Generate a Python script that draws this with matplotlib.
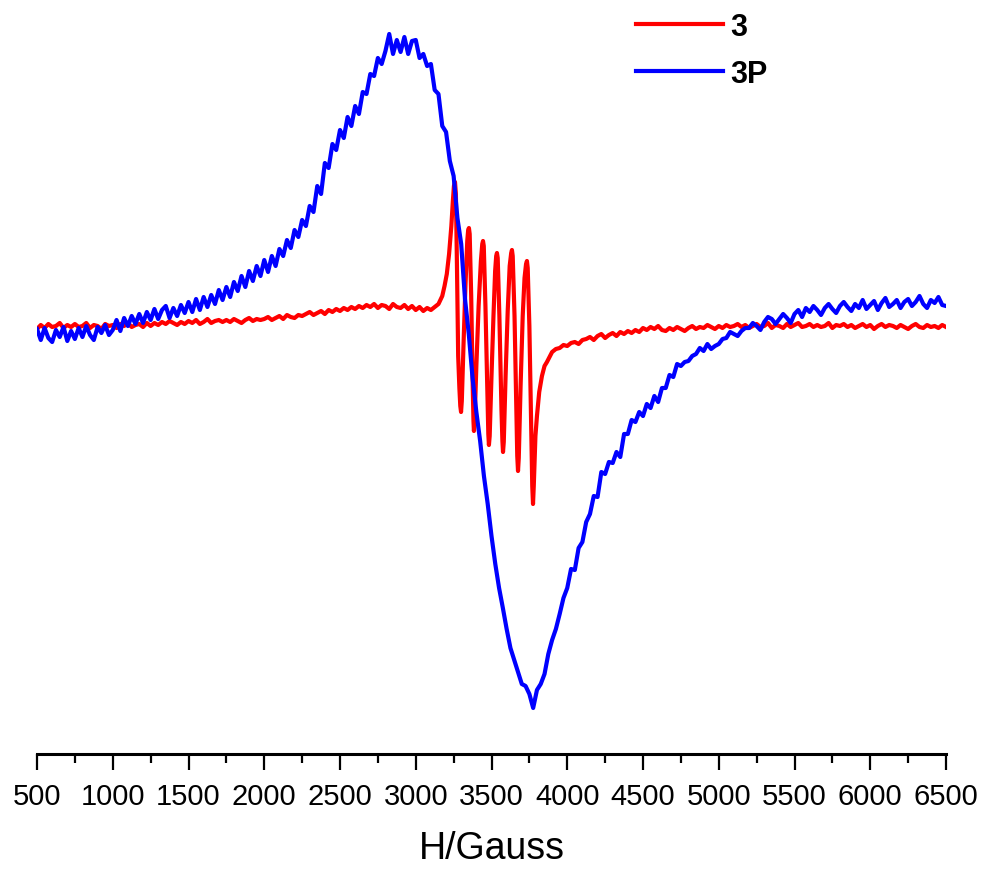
import numpy as np
import matplotlib
matplotlib.use("Agg")
import matplotlib.pyplot as plt

plt.rcParams['font.family'] = ['Liberation Sans', 'DejaVu Sans']

# ---------------- data (field in Gauss, intensity in arbitrary units) ----------------
field_grid = np.arange(500, 6525, 25)  # sweep sampling grid for 3P

blue_3P = [
    -3, -14, -2, -12, -16, -4, -11, -1, -15, -5,
    -13, -2, -11, 0, -9, -14, -1, -7, 1, -9,
    -4, 6, -5, 8, 0, 10, 2, 12, 3, 14,
    6, 17, 7, 16, 20, 8, 18, 10, 21, 13,
    24, 14, 27, 16, 29, 19, 31, 22, 36, 26,
    39, 29, 44, 35, 50, 39, 55, 45, 60, 50,
    66, 54, 70, 60, 77, 70, 86, 78, 96, 89,
    106, 100, 120, 114, 140, 132, 163, 158, 182, 176,
    196, 188, 209, 200, 220, 212, 234, 232, 252, 250,
    268, 262, 275, 292, 272, 286, 274, 289, 272, 285,
    286, 268, 272, 260, 262, 236, 232, 200, 194, 165,
    150, 108, 82, 27, -8, -52, -86, -115, -150, -178,
    -210, -238, -262, -282, -303, -322, -334, -346, -358, -360,
    -368, -382, -364, -358, -348, -328, -314, -303, -288, -272,
    -262, -243, -244, -222, -216, -196, -188, -170, -171, -146,
    -148, -136, -137, -126, -131, -108, -108, -94, -96, -86,
    -90, -78, -82, -70, -76, -62, -62, -49, -51, -38,
    -40, -36, -35, -30, -28, -22, -25, -18, -23, -20,
    -18, -13, -12, -6, -8, -10, -5, -2, -2, 3,
    0, -4, 4, 9, 7, 2, 7, 12, 8, 3,
    12, 16, 9, 18, 14, 20, 16, 11, 18, 22,
    17, 13, 20, 24, 19, 15, 22, 18, 26, 17,
    21, 25, 16, 23, 28, 19, 22, 26, 18, 24,
    27, 20, 24, 30, 22, 18, 26, 23, 29, 21,
    20,
]

red_field_low = np.arange(500, 3200, 25)
red_low = [
    -3, 1, -2, 2, -1, 0, 3, -2, 1, -1,
    2, -1, 0, 3, -2, 1, 0, -3, 2, 0,
    1, -2, 2, 0, 3, -1, 1, 2, -1, 3,
    0, 3, 1, 4, 2, 5, 3, 1, 4, 2,
    5, 3, 6, 2, 4, 7, 3, 5, 6, 4,
    6, 4, 7, 5, 3, 6, 8, 5, 7, 6,
    7, 9, 6, 8, 10, 7, 11, 9, 8, 11,
    10, 12, 14, 11, 13, 15, 12, 16, 14, 17,
    15, 18, 16, 19, 17, 20, 18, 21, 19, 22,
    18, 21, 20, 17, 22, 19, 18, 21, 17, 20,
    16, 19, 15, 18, 16, 19, 22, 30,
]

red_field_mid = [
    3190, 3205, 3220, 3235, 3245, 3252, 3259, 3265, 3272, 3280, 3288, 3294, 3299, 3304,
    3315, 3328, 3340, 3346, 3351, 3356, 3366, 3376, 3381, 3384, 3388,
    3400, 3415, 3430, 3439, 3444, 3449, 3460, 3473, 3479, 3483, 3488,
    3500, 3513, 3524, 3531, 3536, 3541, 3552, 3566, 3572, 3576, 3581,
    3593, 3607, 3620, 3630, 3635, 3640, 3652, 3664, 3670, 3675, 3680,
    3692, 3706, 3718, 3728, 3734, 3739, 3750, 3762, 3769, 3774, 3779,
    3790, 3800, 3815, 3833, 3850, 3866,
]
red_mid = [
    40, 52, 72, 100, 125, 140, 144, 132, 60, -30, -62, -80, -86, -75,
    -20, 40, 85, 96, 98, 92, 30, -60, -95, -105, -98,
    -40, 20, 65, 82, 85, 80, 20, -70, -108, -119, -110,
    -50, 10, 55, 70, 73, 68, 10, -85, -115, -126, -116,
    -50, 15, 60, 73, 76, 70, 10, -85, -130, -145, -132,
    -60, 10, 48, 62, 65, 58, 0, -100, -160, -178, -160,
    -110, -90, -66, -50, -40, -36,
]

red_field_high = np.arange(3900, 6525, 25)
red_high = [
    -26, -23, -22, -19, -20, -17, -16, -18, -14, -13,
    -11, -14, -10, -8, -12, -9, -7, -10, -6, -8,
    -5, -7, -4, -6, -2, -4, -1, -3, 0, -4,
    -5, -2, -4, -1, -3, -5, -2, 0, -3, -1,
    -2, 1, -1, -3, 0, -2, 1, -1, 0, 2,
    -1, 1, -2, 0, 2, -1, 0, 3, -2, 1,
    0, -2, 2, -1, 1, 3, -1, 0, 2, -1,
    1, -1, 0, 3, -2, 1, 0, 2, -1, 1,
    -2, 0, 2, -1, 1, -3, 0, 2, -1, 1,
    0, -2, 1, -1, -3, 0, 2, -1, -2, 1,
    -1, 0, -2, 1, -1,
]

xticks = [500, 1000, 1500, 2000, 2500, 3000, 3500, 4000, 4500, 5000, 5500, 6000, 6500]

red_field = np.concatenate([red_field_low, red_field_mid, red_field_high])
red_3 = np.concatenate([red_low, red_mid, red_high])

# ---------------- figure ----------------
fig = plt.figure(figsize=(9.85, 8.7), dpi=100)
ax = fig.add_axes([37 / 985, (870 - 755) / 870, 909 / 985, (755 - 10) / 870])

ax.plot(red_field, red_3, color='#ff0000', lw=3.0, label='3', solid_joinstyle='round')
ax.plot(field_grid, blue_3P, color='#0000ff', lw=3.0, label='3P', solid_joinstyle='round')

ax.set_xlim(500, 6500)
ax.set_ylim(-428, 317)

for s in ['top', 'right', 'left']:
    ax.spines[s].set_visible(False)
ax.spines['bottom'].set_linewidth(2.2)
ax.set_yticks([])
ax.set_xticks(xticks)
ax.set_xticklabels([str(t) for t in xticks])
ax.set_xticks(np.arange(750, 6500, 500), minor=True)
ax.tick_params(axis='x', which='major', direction='out', length=11.5, width=1.6,
               labelsize=21, pad=9)
ax.tick_params(axis='x', which='minor', direction='out', length=6.5, width=1.6)
ax.set_xlabel('H/Gauss', fontsize=27, labelpad=14)

leg = ax.legend(loc='upper left', bbox_to_anchor=(636 / 985, 857 / 870),
                bbox_transform=fig.transFigure, frameon=False, borderpad=0,
                borderaxespad=0, handlelength=2.85, handletextpad=0.25,
                labelspacing=0.56, prop={'size': 22, 'weight': 'bold'})
for line in leg.get_lines():
    line.set_linewidth(3.0)

fig.savefig('out.png', dpi=100)
